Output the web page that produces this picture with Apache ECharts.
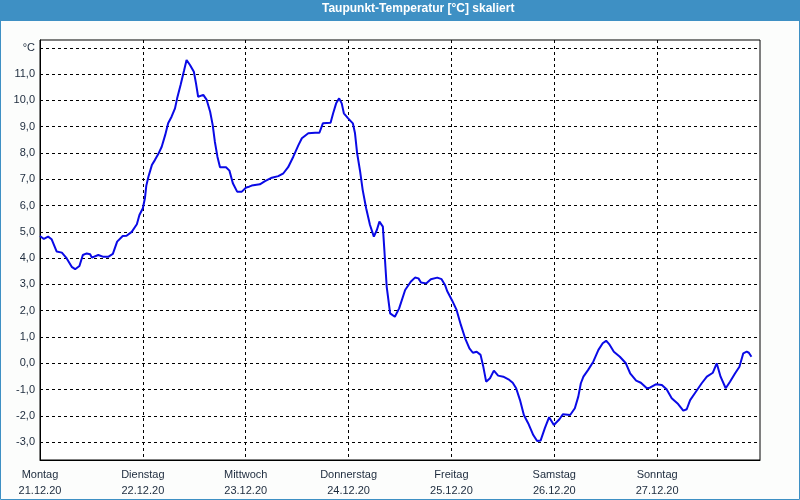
<!DOCTYPE html>
<html>
<head>
<meta charset="utf-8">
<script src="https://cdn.jsdelivr.net/npm/echarts@6/dist/echarts.min.js"></script>
<style>
html,body{margin:0;padding:0;background:#fcfdfc;}
#chart{width:800px;height:500px;}
</style>
</head>
<body>
<div id="chart"></div>
<script>
var chartTitle = 'Taupunkt-Temperatur [°C] skaliert';
var dayNames = ['Montag','Dienstag','Mittwoch','Donnerstag','Freitag','Samstag','Sonntag'];
var dayDates = ['21.12.20','22.12.20','23.12.20','24.12.20','25.12.20','26.12.20','27.12.20'];
var unitLabel = '°C';
// hours since Monday 21.12.20 00:00
var hours = [0,0.9,1.9,2.7,3.9,5.1,6.2,7.4,8.2,9.2,
10.0,10.9,11.7,12.1,13.6,14.8,15.9,17.0,18.0,19.3,
20.2,21.4,22.6,23.2,24.0,24.5,24.8,25.3,26.1,26.8,
27.6,28.4,29.2,29.9,30.7,31.5,32.0,32.8,33.6,34.2,
35.0,35.9,36.4,36.9,37.3,38.1,38.9,39.7,40.3,40.8,
41.4,42.0,43.4,44.2,45.0,46.0,47.1,48.1,48.8,49.4,
51.3,52.5,54.1,55.6,56.8,57.9,59.1,60.3,61.1,62.6,
64.2,65.2,66.0,67.8,68.4,69.1,69.8,70.4,70.9,71.9,
73.0,73.5,74.0,74.7,75.3,76.1,77.0,77.9,78.6,79.2,
80.0,80.5,80.9,81.7,82.8,83.8,85.2,86.5,87.5,88.3,
88.9,90.1,91.2,92.7,93.7,94.5,95.0,96.1,97.2,98.2,
99.2,100.2,101.0,101.9,102.8,103.4,104.1,105.0,105.9,106.9,
108.1,109.3,110.3,111.1,112.0,112.9,113.9,115.1,116.0,116.8,
117.8,118.8,119.9,121.2,122.0,123.7,124.8,125.6,126.2,126.8,
127.9,129.1,130.3,131.3,132.1,132.8,133.9,135.3,136.7,137.7,
139.1,140.2,141.6,142.3,143.7,145.1,146.2,147.4,148.9,150.1,
150.9,151.7,152.8,154.4,155.6,157.0,157.9,158.8,160.0,161.0,
162.2,163.2,164.1,164.9,165.4,166.0];
var dewPoint = [4.84,4.73,4.82,4.72,4.25,4.21,4.0,3.67,3.58,3.70,
4.12,4.18,4.15,4.02,4.12,4.05,4.05,4.16,4.63,4.84,
4.85,5.0,5.29,5.64,5.9,6.3,6.75,7.10,7.54,7.73,
7.96,8.24,8.68,9.13,9.38,9.70,10.08,10.59,11.13,11.54,
11.35,11.09,10.65,10.14,10.12,10.21,10.02,9.57,9.06,8.43,
7.86,7.46,7.46,7.33,6.85,6.53,6.53,6.69,6.72,6.76,
6.81,6.93,7.06,7.12,7.23,7.46,7.86,8.30,8.56,8.75,
8.77,8.77,9.13,9.15,9.51,9.89,10.08,9.89,9.51,9.32,
9.13,8.75,7.99,7.29,6.59,5.90,5.26,4.82,5.07,5.39,
5.20,3.93,2.91,1.90,1.77,2.09,2.79,3.10,3.26,3.23,
3.07,3.04,3.20,3.26,3.20,2.98,2.75,2.41,2.03,1.46,
0.95,0.57,0.40,0.44,0.32,-0.10,-0.70,-0.57,-0.28,-0.47,
-0.51,-0.61,-0.74,-0.95,-1.40,-1.97,-2.28,-2.73,-2.96,-2.94,
-2.47,-2.05,-2.35,-2.13,-1.94,-1.97,-1.71,-1.27,-0.76,-0.51,
-0.25,0.06,0.51,0.76,0.86,0.73,0.44,0.25,0.0,-0.38,
-0.66,-0.74,-0.95,-0.93,-0.80,-0.83,-0.99,-1.33,-1.55,-1.80,
-1.75,-1.40,-1.14,-0.76,-0.51,-0.36,0.0,-0.51,-0.95,-0.70,
-0.38,-0.13,0.38,0.44,0.40,0.25];
var yMin = -3.68, yMax = 12.3;
var xMax = 168;

var seriesData = hours.map(function (h, i) { return [h, dewPoint[i]]; });

var chart = echarts.init(document.getElementById('chart'), null, {renderer: 'canvas'});
var labelColor = '#1c2a3c';
var fontFam = '"Liberation Sans", Arial, sans-serif';
chart.setOption({
  animation: false,
  backgroundColor: '#fcfdfc',
  graphic: [
    {type: 'rect', shape: {x: 0, y: 0, width: 800, height: 21}, style: {fill: '#3e90c4'}, z: -1},
    {type: 'rect', shape: {x: 0.5, y: 0.5, width: 799, height: 499}, style: {fill: null, stroke: '#3e90c4', lineWidth: 1}, z: 100}
  ],
  title: {
    text: chartTitle,
    left: 322,
    top: 3,
    padding: 0,
    textStyle: {color: '#ffffff', fontSize: 12, fontWeight: 'bold', fontFamily: fontFam}
  },
  grid: {left: 40, right: 40, top: 40, bottom: 40, show: true, borderColor: '#000', borderWidth: 1, backgroundColor: '#ffffff'},
  xAxis: {
    type: 'value',
    min: 0,
    max: xMax,
    interval: 24,
    axisLine: {show: true, onZero: false, lineStyle: {color: '#000', width: 1}},
    axisTick: {show: false},
    splitLine: {show: true, showMinLine: false, showMaxLine: false, lineStyle: {color: '#000', type: [3, 3], width: 1}},
    axisLabel: {
      margin: 7,
      color: labelColor,
      fontSize: 11,
      fontFamily: fontFam,
      lineHeight: 16,
      formatter: function (v) {
        var i = Math.round(v / 24);
        if (i >= dayNames.length) return '';
        return dayNames[i] + '\n' + dayDates[i];
      }
    }
  },
  yAxis: {
    type: 'value',
    min: yMin,
    max: yMax,
    splitNumber: 16,
    minInterval: 1,
    maxInterval: 1,
    axisLine: {show: true, onZero: false, lineStyle: {color: '#000', width: 1}},
    axisTick: {show: false},
    splitLine: {show: true, showMinLine: false, showMaxLine: false, lineStyle: {color: '#000', type: [3, 3], width: 1}},
    axisLabel: {
      margin: 5,
      color: labelColor,
      fontSize: 11,
      fontFamily: fontFam,
      showMinLabel: false,
      showMaxLabel: false,
      formatter: function (v) {
        if (Math.abs(v - Math.round(v)) > 1e-6) return '';
        if (Math.round(v) === 12) return unitLabel;
        return v.toFixed(1).replace('.', ',');
      }
    }
  },
  series: [{
    type: 'line',
    data: seriesData,
    showSymbol: false,
    lineStyle: {color: '#0a0ae6', width: 2},
    itemStyle: {color: '#0a0ae6'}
  }]
});
</script>
</body>
</html>
